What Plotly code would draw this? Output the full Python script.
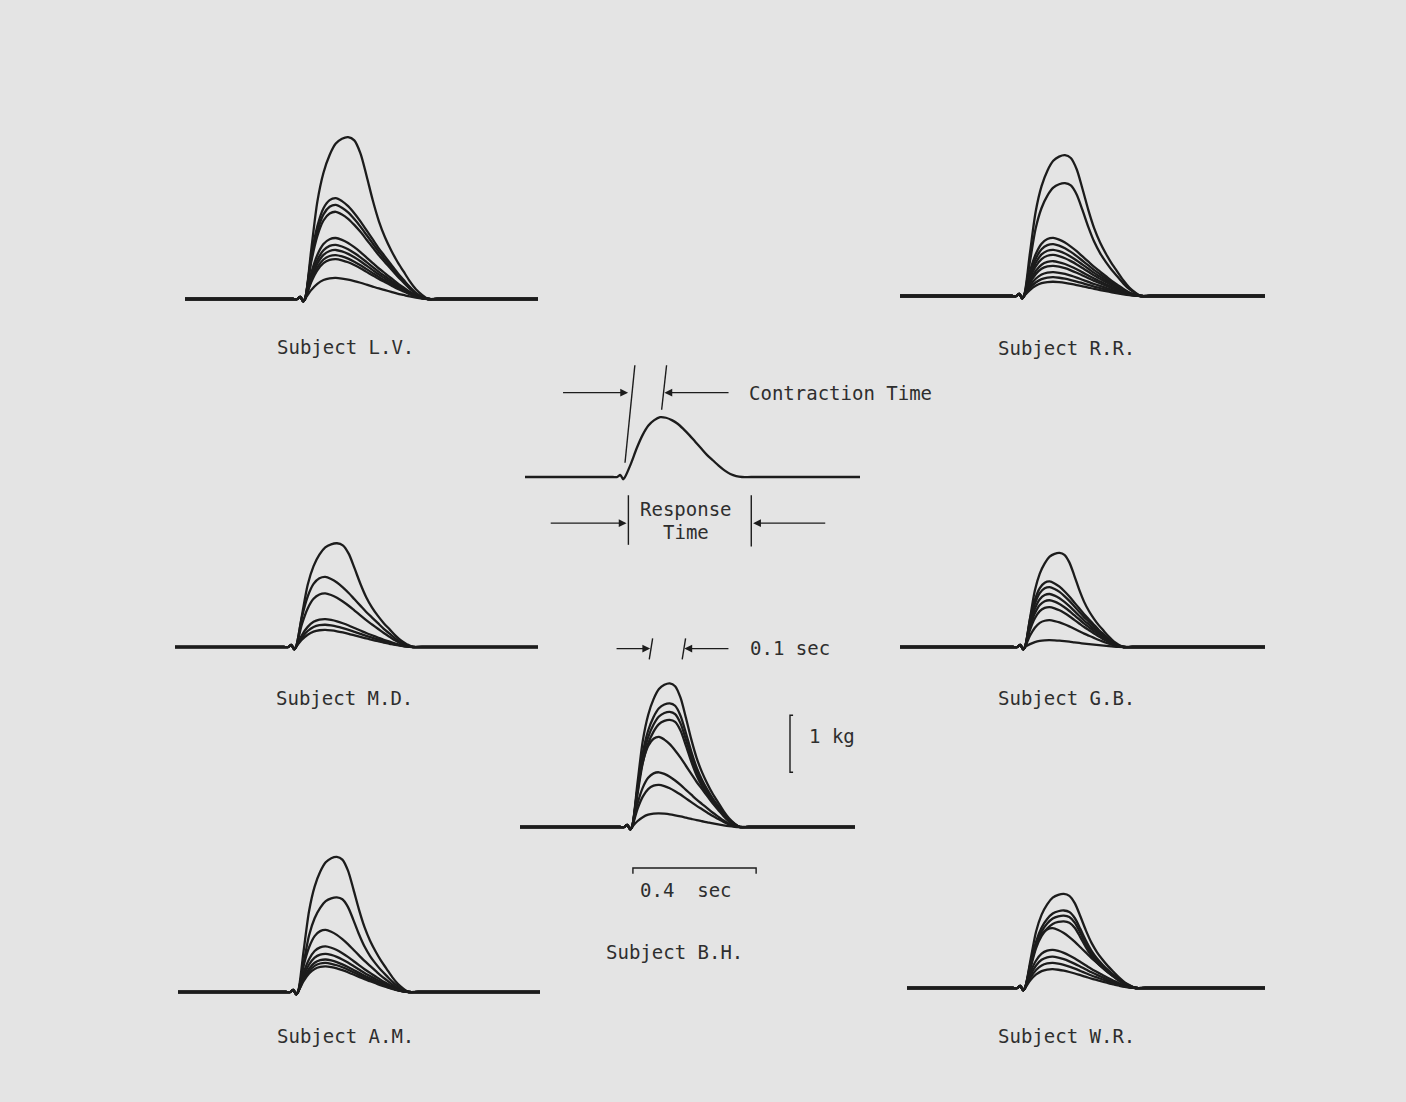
import plotly.graph_objects as go

W, H = 1406, 1102
PX_PER_S = 308.0   # horizontal scale of the records (0.4 sec bar)
PX_PER_KG = 57.0   # vertical scale of the records (1 kg bar)

# normalised twitch shapes, sampled at fractions of the response time
u_frac = [0, .05, .1, .15, .2, .25, .3, .35, .4, .45, .5, .55, .6, .65, .7, .75, .8, .85, .9, .95, 1.0]
shape_tall = [0, .30, .60, .78, .89, .96, .99, 1.0, .98, .90, .76, .61, .48, .38, .30, .23, .17, .11, .06, .025, 0]
shape_small = [0, .42, .72, .90, .98, 1.0, .97, .92, .85, .77, .68, .59, .50, .42, .34, .26, .19, .12, .06, .02, 0]
shape_schematic = [0, .22, .48, .70, .86, .95, 1.0, .99, .95, .89, .80, .70, .59, .48, .37, .28, .19, .11, .05, .015, 0]

# stimulus artefact just before onset (sec, kg)
notch_t = [-0.04, -0.025, -0.015, -0.006]
notch_kg = [0.0, 0.0, 0.035, -0.04]

# peak tension of every twitch (kg) and response time (sec) per subject
subjects = ["L.V.", "R.R.", "M.D.", "G.B.", "A.M.", "W.R.", "B.H."]
response_s = [0.40, 0.38, 0.38, 0.32, 0.36, 0.36, 0.35]
peaks_lv = [2.84, 1.77, 1.65, 1.53, 1.07, 0.95, 0.86, 0.77, 0.70, 0.37]
peaks_rr = [2.47, 1.98, 1.02, 0.91, 0.81, 0.72, 0.61, 0.53, 0.42, 0.33, 0.25]
peaks_md = [1.82, 1.23, 0.94, 0.49, 0.39, 0.30]
peaks_gb = [1.65, 1.15, 1.05, 0.93, 0.82, 0.70, 0.47, 0.12]
peaks_am = [2.37, 1.66, 1.09, 0.80, 0.67, 0.57, 0.51, 0.45]
peaks_wr = [1.65, 1.36, 1.27, 1.17, 1.05, 0.67, 0.55, 0.44, 0.33]
peaks_bh = [2.52, 2.17, 2.02, 1.88, 1.58, 0.96, 0.74, 0.24]
peaks = [peaks_lv, peaks_rr, peaks_md, peaks_gb, peaks_am, peaks_wr, peaks_bh]

# schematic twitch
schematic_peak = 1.05
schematic_response = 0.38
contraction_time = 0.12
response_time = 0.41

# scale bars
bar_short_s = 0.1
bar_long_s = 0.4
bar_kg = 1.0

# where each record sits on the page (pixels)
panels = {
    "L.V.": dict(left=185, right=538, onset=305, base=299, top=120, bottom=315, label=(345, 347)),
    "R.R.": dict(left=900, right=1265, onset=1024, base=296, top=130, bottom=312, label=(1066, 348)),
    "M.D.": dict(left=175, right=538, onset=296, base=647, top=525, bottom=662, label=(344, 698)),
    "G.B.": dict(left=900, right=1265, onset=1025, base=647, top=535, bottom=662, label=(1066, 698)),
    "A.M.": dict(left=178, right=540, onset=298, base=992, top=840, bottom=1007, label=(345, 1036)),
    "W.R.": dict(left=907, right=1265, onset=1025, base=988, top=875, bottom=1003, label=(1066, 1036)),
    "B.H.": dict(left=520, right=855, onset=632, base=827, top=628, bottom=908, label=(674, 952)),
    "schematic": dict(left=525, right=860, onset=625, base=477, top=355, bottom=556),
}

LINE = "#1c1c1c"
TEXT = "#2e2e2e"
FONT = dict(family="DejaVu Sans Mono", size=19, color=TEXT)
BG = "#e4e4e4"

fig = go.Figure()
layout_axes = {}


def axis_ids(i):
    n = "" if i == 0 else str(i + 1)
    return "x" + n, "y" + n, "xaxis" + n, "yaxis" + n


def setup_axes(i, p):
    xa, ya, xk, yk = axis_ids(i)
    layout_axes[xk] = dict(
        domain=[p["left"] / W, p["right"] / W],
        range=[(p["left"] - p["onset"]) / PX_PER_S, (p["right"] - p["onset"]) / PX_PER_S],
        visible=False, fixedrange=True, anchor=ya,
    )
    layout_axes[yk] = dict(
        domain=[1 - p["bottom"] / H, 1 - p["top"] / H],
        range=[(p["base"] - p["bottom"]) / PX_PER_KG, (p["base"] - p["top"]) / PX_PER_KG],
        visible=False, fixedrange=True, anchor=xa,
    )
    return xa, ya


def twitch(x0, x1, dur, amp, shape):
    xs = [x0] + notch_t + [u * dur for u in u_frac] + [dur + 0.03, x1]
    ys = [0] + notch_kg + [s * amp for s in shape] + [0, 0]
    return xs, ys


order = subjects + ["schematic"]
for i, name in enumerate(order):
    p = panels[name]
    xa, ya = setup_axes(i, p)
    x0, x1 = layout_axes[axis_ids(i)[2]]["range"]
    if name == "schematic":
        curves = [(schematic_peak, shape_schematic, schematic_response)]
    else:
        k = subjects.index(name)
        top = max(peaks[k])
        curves = [(a, shape_tall if a >= 0.7 * top else shape_small, response_s[k]) for a in peaks[k]]
    for amp, shape, dur in curves:
        xs, ys = twitch(x0, x1, dur, amp, shape)
        fig.add_trace(go.Scatter(
            x=xs, y=ys, xaxis=xa, yaxis=ya, mode="lines",
            line=dict(color=LINE, width=2.3, shape="spline", smoothing=0.8),
            hoverinfo="skip", showlegend=False,
        ))
    if name != "schematic":
        lx, ly = p["label"]
        fig.add_annotation(x=lx / W, y=1 - ly / H, xref="paper", yref="paper",
                           xanchor="center", yanchor="middle",
                           text="Subject " + name, showarrow=False, font=FONT)


def seg(xa, ya, xs, ys, width=1.4):
    fig.add_trace(go.Scatter(x=xs, y=ys, xaxis=xa, yaxis=ya, mode="lines",
                             line=dict(color=LINE, width=width),
                             hoverinfo="skip", showlegend=False))


def arrow(xa, ya, tail, head, y):
    fig.add_annotation(x=head, y=y, ax=tail, ay=y, xref=xa, yref=ya, axref=xa, ayref=ya,
                       text="", showarrow=True, arrowhead=2, arrowsize=1.2,
                       arrowwidth=1.3, arrowcolor=LINE, standoff=0, startstandoff=0)


# schematic markings
sx, sy = "x8", "y8"
seg(sx, sy, [0.0, 0.032], [0.25, 1.96])
seg(sx, sy, [contraction_time - 0.001, contraction_time + 0.015], [1.18, 1.96])
arrow(sx, sy, -0.206, 0.01, 1.48)
arrow(sx, sy, 0.341, contraction_time + 0.008, 1.48)
fig.add_annotation(x=0.396, y=1.48, xref=sx, yref=sy, text="Contraction Time",
                   showarrow=False, xanchor="left", font=FONT)
seg(sx, sy, [0.011, 0.011], [-0.32, -1.19])
seg(sx, sy, [response_time, response_time], [-0.32, -1.22])
arrow(sx, sy, -0.246, 0.005, -0.81)
arrow(sx, sy, 0.655, response_time + 0.006, -0.81)
fig.add_annotation(x=0.198, y=-0.56, xref=sx, yref=sy, text="Response",
                   showarrow=False, font=FONT)
fig.add_annotation(x=0.198, y=-0.97, xref=sx, yref=sy, text="Time",
                   showarrow=False, font=FONT)

# scale bars beside subject B.H.
bx, by = "x7", "y7"
t0 = 0.056
seg(bx, by, [t0, t0 + 0.011], [2.94, 3.31])
seg(bx, by, [t0 + bar_short_s + 0.007, t0 + bar_short_s + 0.018], [2.94, 3.31])
arrow(bx, by, -0.055, t0 + 0.003, 3.13)
arrow(bx, by, 0.318, t0 + bar_short_s + 0.014, 3.13)
fig.add_annotation(x=0.377, y=3.14, xref=bx, yref=by, text="0.1 sec",
                   showarrow=False, xanchor="left", font=FONT)
kb = 0.96
seg(bx, by, [0.523, 0.513, 0.513, 0.523], [kb + bar_kg, kb + bar_kg, kb, kb])
fig.add_annotation(x=0.568, y=1.60, xref=bx, yref=by, text="1 kg",
                   showarrow=False, xanchor="left", font=FONT)
seg(bx, by, [0.003, 0.003, 0.003 + bar_long_s, 0.003 + bar_long_s], [-0.82, -0.72, -0.72, -0.82])
fig.add_annotation(x=0.175, y=-1.1, xref=bx, yref=by, text="0.4  sec",
                   showarrow=False, font=FONT)

fig.update_layout(
    width=W, height=H,
    margin=dict(l=0, r=0, t=0, b=0),
    paper_bgcolor=BG, plot_bgcolor="rgba(0,0,0,0)",
    showlegend=False,
    **layout_axes,
)

# drop the browser's default 8px page margin so the figure fills the window
fig.write_html("out.html", config={"displayModeBar": False},
               post_script="document.body.style.margin='0px';")
